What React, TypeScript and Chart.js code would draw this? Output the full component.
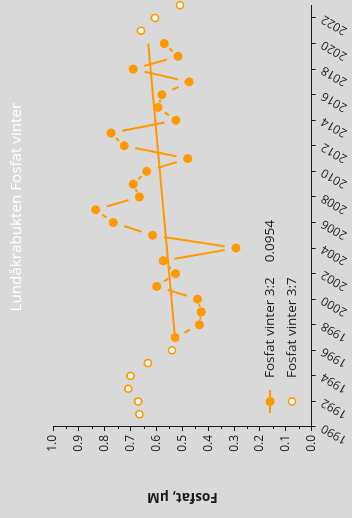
import { useEffect, useRef } from 'react';
import { Chart, registerables } from 'chart.js';

Chart.register(...registerables);

const BG = '#d9d9d9';
const ORANGE = '#ff9900';
const AXIS = '#1a1a1a';
const TEXT = '#222222';
const FONT = '"Open Sans", "Noto Sans", sans-serif';

const chartTitle = 'Lundåkrabukten Fosfat vinter';
const valueAxisTitle = 'Fosfat, µM';

const yearTicks = [1990, 1992, 1994, 1996, 1998, 2000, 2002, 2004, 2006, 2008, 2010, 2012, 2014, 2016, 2018, 2020, 2022];
const valueTicks = [0, 0.1, 0.2, 0.3, 0.4, 0.5, 0.6, 0.7, 0.8, 0.9, 1.0];
const minorValueTicks = [0.05, 0.15, 0.25, 0.35, 0.45, 0.55, 0.65, 0.75, 0.85, 0.95];

// Station 3:2 (connected series)
const label32 = 'Fosfat vinter 3:2';
const years32 = [1997, 1998, 1999, 2000, 2001, 2002, 2003, 2004, 2005, 2006, 2007, 2008, 2009, 2010, 2011, 2012, 2013, 2014, 2015, 2016, 2017, 2018, 2019, 2020];
const values32 = [0.528, 0.434, 0.427, 0.441, 0.599, 0.526, 0.574, 0.293, 0.615, 0.767, 0.835, 0.666, 0.690, 0.638, 0.479, 0.725, 0.776, 0.525, 0.594, 0.579, 0.474, 0.690, 0.517, 0.570];

// Trend for 3:2 and its stated value
const trendYears = [1997, 2020];
const trendValues = [0.528, 0.632];
const trendNote = '0.0954';

// Station 3:7 (open markers)
const label37 = 'Fosfat vinter 3:7';
const years37 = [1991, 1992, 1993, 1994, 1995, 1996, 2021, 2022, 2023];
const values37 = [0.666, 0.671, 0.709, 0.700, 0.633, 0.540, 0.660, 0.606, 0.509];

const W = 518;
const H = 352;

// Line pieces stop short of the markers; short links keep a proportionally smaller gap.
const gapDash = (ctx: any) => {
  const len = Math.hypot(ctx.p1.x - ctx.p0.x, ctx.p1.y - ctx.p0.y);
  const gap = Math.min(11.5, len * 0.385);
  return [0, gap, Math.max(len - 2 * gap, 0), len + 100];
};

const overlay = {
  id: 'overlay',
  afterDraw(chart: any) {
    const { ctx, chartArea, scales } = chart;
    const left = chartArea.left;
    ctx.save();

    // heading
    ctx.fillStyle = '#ffffff';
    ctx.font = `15.2px ${FONT}`;
    ctx.textAlign = 'center';
    ctx.textBaseline = 'middle';
    ctx.fillText(chartTitle, (chartArea.left + chartArea.right) / 2 + 9, 17);

    // minor ticks on the value axis
    ctx.strokeStyle = AXIS;
    ctx.lineWidth = 1;
    for (const v of minorValueTicks) {
      const y = Math.round(scales.y.getPixelForValue(v)) + 0.5;
      ctx.beginPath();
      ctx.moveTo(left - 2, y);
      ctx.lineTo(left, y);
      ctx.stroke();
    }

    // legend
    const row1 = chartArea.bottom - 41.7;
    const row2 = chartArea.bottom - 19.7;
    const mx = left + 25.5;
    const tx = left + 49;

    ctx.strokeStyle = ORANGE;
    ctx.lineWidth = 2;
    ctx.beginPath();
    ctx.moveTo(mx - 11.5, row1);
    ctx.lineTo(mx + 11.5, row1);
    ctx.stroke();
    ctx.fillStyle = ORANGE;
    ctx.beginPath();
    ctx.arc(mx, row1, 4.5, 0, Math.PI * 2);
    ctx.fill();

    ctx.beginPath();
    ctx.arc(mx, row2, 3.5, 0, Math.PI * 2);
    ctx.fillStyle = '#ffffff';
    ctx.fill();
    ctx.lineWidth = 1.7;
    ctx.strokeStyle = ORANGE;
    ctx.stroke();

    ctx.fillStyle = TEXT;
    ctx.font = `13.5px ${FONT}`;
    ctx.textAlign = 'left';
    ctx.textBaseline = 'middle';
    ctx.fillText(label32, tx, row1);
    const w1 = ctx.measureText(label32).width;
    ctx.fillText(trendNote, tx + w1 + 15, row1);
    ctx.fillText(label37, tx, row2);

    ctx.restore();
  },
};

export default function App() {
  const canvasRef = useRef<HTMLCanvasElement | null>(null);

  useEffect(() => {
    const canvas = canvasRef.current;
    if (!canvas) return;

    const tickGrid = {
      display: true,
      drawOnChartArea: false,
      drawTicks: true,
      tickLength: 4,
      tickColor: AXIS,
      tickWidth: 1,
    };

    const chart = new Chart(canvas, {
      type: 'line',
      data: {
        datasets: [
          {
            label: label32,
            data: years32.map((x, i) => ({ x, y: values32[i] })),
            borderColor: ORANGE,
            backgroundColor: ORANGE,
            borderWidth: 2,
            tension: 0,
            pointRadius: 4.5,
            pointHoverRadius: 4.5,
            pointBorderWidth: 0,
            pointBackgroundColor: ORANGE,
            segment: { borderDash: gapDash },
          },
          {
            label: 'trend',
            data: trendYears.map((x, i) => ({ x, y: trendValues[i] })),
            borderColor: ORANGE,
            borderWidth: 2,
            tension: 0,
            pointRadius: 0,
            pointHoverRadius: 0,
          },
          {
            label: label37,
            data: years37.map((x, i) => ({ x, y: values37[i] })),
            showLine: false,
            pointRadius: 3.5,
            pointHoverRadius: 3.5,
            pointBorderWidth: 1.7,
            pointBorderColor: ORANGE,
            pointBackgroundColor: '#ffffff',
            clip: false,
          },
        ],
      },
      options: {
        responsive: false,
        maintainAspectRatio: false,
        animation: false,
        devicePixelRatio: 1,
        events: [],
        layout: { padding: { top: 53, right: 3, bottom: 0, left: 0 } },
        plugins: {
          legend: { display: false },
          tooltip: { enabled: false },
          title: { display: false },
        },
        scales: {
          x: {
            type: 'linear',
            min: 1990,
            max: 2023,
            afterBuildTicks: (s: any) => {
              s.ticks = yearTicks.map((v) => ({ value: v }));
            },
            afterFit: (s: any) => {
              s.height = 40.3;
            },
            grid: tickGrid,
            border: { display: true, color: AXIS, width: 1 },
            ticks: {
              color: TEXT,
              font: { family: FONT, size: 12 },
              minRotation: 60,
              maxRotation: 60,
              autoSkip: false,
              padding: 3,
              callback: (v: any) => String(v),
            },
          },
          y: {
            type: 'linear',
            min: 0,
            max: 1,
            afterBuildTicks: (s: any) => {
              s.ticks = valueTicks.map((v) => ({ value: v }));
            },
            afterFit: (s: any) => {
              s.width = 91;
            },
            grid: tickGrid,
            border: { display: true, color: AXIS, width: 1 },
            ticks: {
              color: TEXT,
              font: { family: FONT, size: 12 },
              padding: 4,
              callback: (v: any) => Number(v).toFixed(1),
            },
            title: {
              display: true,
              text: valueAxisTitle,
              color: AXIS,
              font: { family: FONT, size: 13.5, weight: 'bold' },
              padding: { top: 13, bottom: 0 },
            },
          },
        },
      },
      plugins: [overlay],
    } as any);

    return () => chart.destroy();
  }, []);

  return (
    <div
      style={{
        position: 'fixed',
        left: 0,
        top: 0,
        width: H,
        height: W,
        overflow: 'hidden',
        background: BG,
      }}
    >
      <div
        style={{
          position: 'absolute',
          left: 0,
          top: 0,
          width: W,
          height: H,
          transformOrigin: '0 0',
          transform: `translateY(${W}px) rotate(-90deg)`,
        }}
      >
        <canvas ref={canvasRef} width={W} height={H} style={{ display: 'block' }} />
      </div>
    </div>
  );
}
